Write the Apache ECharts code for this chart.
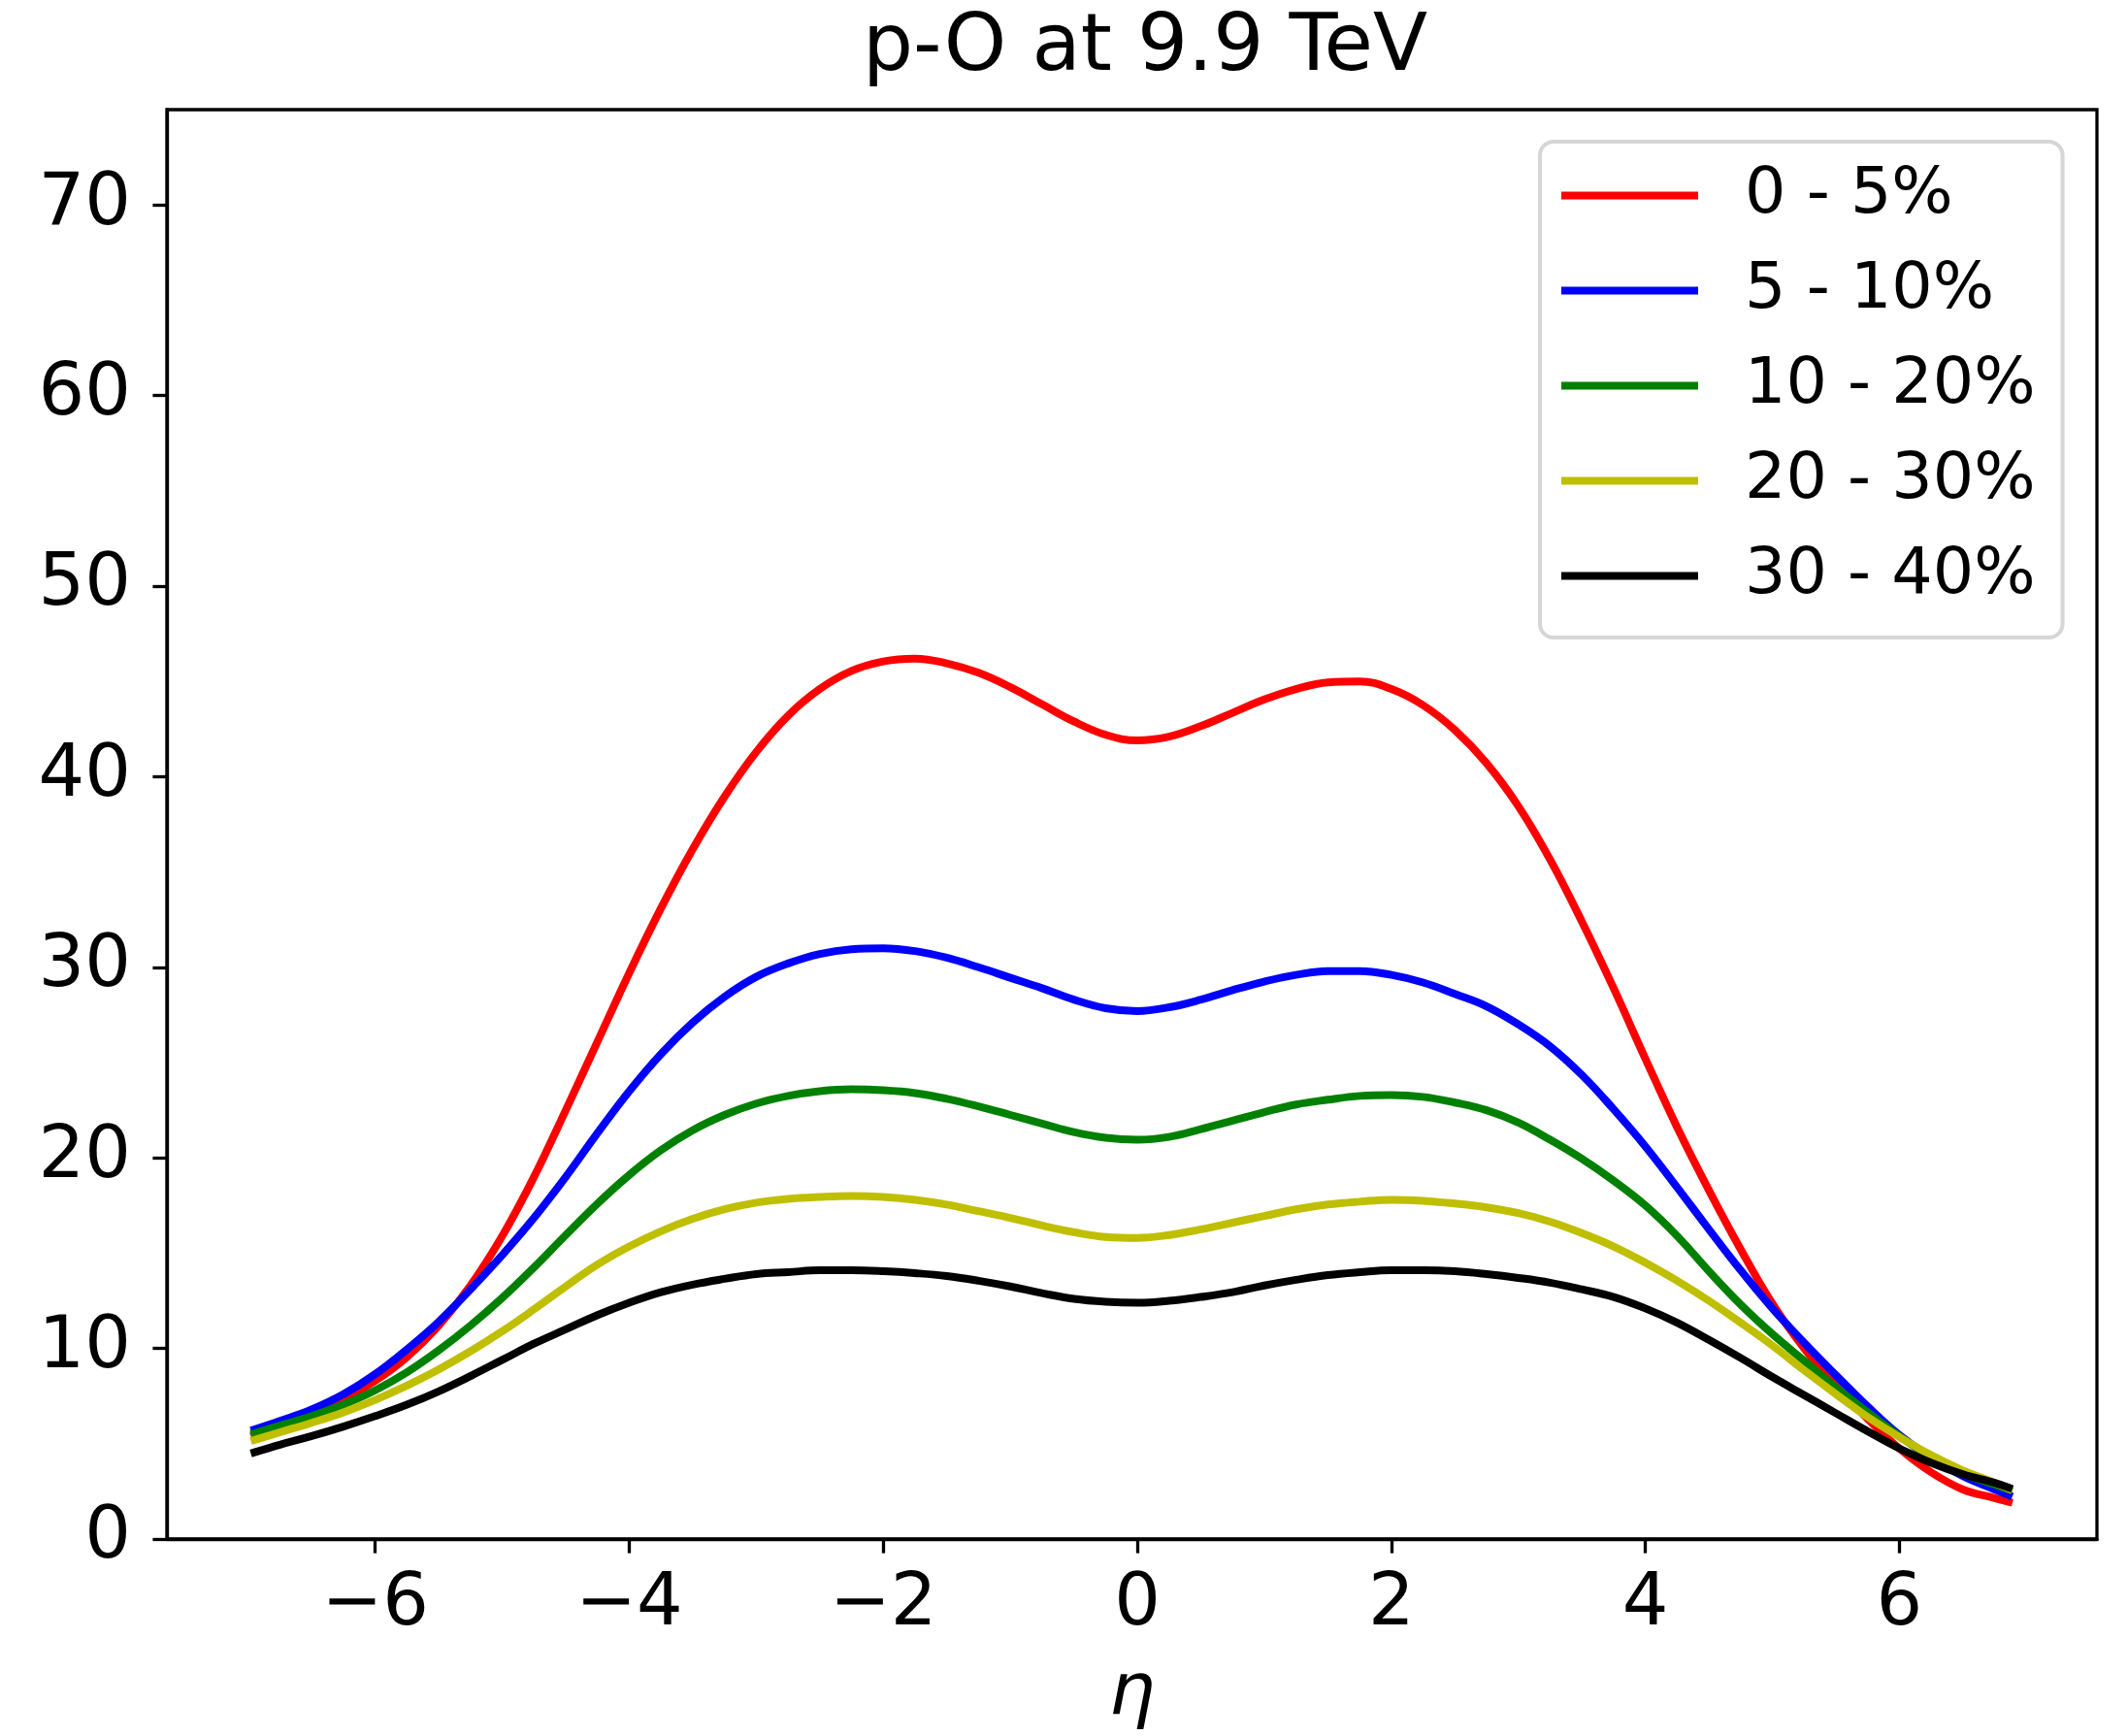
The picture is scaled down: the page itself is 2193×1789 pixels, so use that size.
<!DOCTYPE html>
<html>
<head>
<meta charset="utf-8">
<script src="https://cdn.jsdelivr.net/npm/echarts@6/dist/echarts.min.js"></script>
<style>
html,body{margin:0;padding:0;background:#ffffff;overflow:hidden;}
#chart{width:2193px;height:1789px;}
</style>
</head>
<body>
<div id="chart"></div>
<script>
// ---- data ----
const eta = [-6.95,-6.75,-6.5,-6.25,-6,-5.75,-5.5,-5.25,-5,-4.75,-4.5,-4.25,-4,-3.75,-3.5,-3.25,-3,-2.75,-2.5,-2.25,-2,-1.75,-1.5,-1.25,-1,-0.75,-0.5,-0.25,0,0.25,0.5,0.75,1,1.25,1.5,1.75,2,2.25,2.5,2.75,3,3.25,3.5,3.75,4,4.25,4.5,4.75,5,5.25,5.5,5.75,6,6.25,6.5,6.75,6.86];

const cent0to5 = [5.45,5.95,6.6,7.35,8.3,9.55,11.2,13.3,15.9,19.0,22.5,26.1,29.7,33.1,36.2,38.95,41.3,43.2,44.6,45.55,46.05,46.2,45.95,45.45,44.7,43.8,42.9,42.2,41.9,42.1,42.65,43.35,44.05,44.6,44.95,45.0,44.6,43.75,42.45,40.7,38.45,35.65,32.4,28.9,25.2,21.6,18.3,15.2,12.35,10.0,8.05,6.3,4.75,3.5,2.6,2.15,1.95];

const cent5to10 = [5.75,6.2,6.8,7.6,8.65,9.95,11.4,13.1,14.9,16.85,19.0,21.3,23.5,25.45,27.1,28.45,29.5,30.2,30.7,30.95,31.0,30.85,30.5,30.0,29.45,28.9,28.3,27.85,27.7,27.9,28.3,28.8,29.25,29.6,29.8,29.8,29.6,29.2,28.6,27.95,27.0,25.85,24.35,22.55,20.6,18.45,16.25,14.1,12.1,10.3,8.6,6.95,5.45,4.25,3.3,2.6,2.3];

const cent10to20 = [5.55,5.95,6.45,7.05,7.8,8.75,9.9,11.2,12.65,14.25,15.95,17.6,19.1,20.4,21.45,22.25,22.85,23.25,23.5,23.6,23.55,23.4,23.1,22.7,22.25,21.8,21.35,21.05,20.95,21.1,21.5,21.95,22.4,22.8,23.05,23.25,23.3,23.2,22.9,22.5,21.85,20.95,19.95,18.8,17.5,15.9,14.05,12.3,10.75,9.35,7.95,6.65,5.4,4.3,3.45,2.85,2.6];

const cent20to30 = [5.2,5.6,6.1,6.65,7.3,8.05,8.9,9.85,10.9,12.05,13.25,14.4,15.35,16.15,16.8,17.3,17.65,17.85,17.95,18.0,17.95,17.8,17.55,17.2,16.85,16.45,16.1,15.85,15.8,15.95,16.25,16.6,16.95,17.3,17.55,17.7,17.8,17.75,17.6,17.4,17.1,16.65,16.05,15.35,14.5,13.55,12.5,11.35,10.15,8.85,7.6,6.4,5.35,4.4,3.6,2.95,2.65];

const cent30to40 = [4.55,4.95,5.4,5.9,6.45,7.05,7.75,8.55,9.4,10.25,11.0,11.75,12.4,12.95,13.35,13.65,13.9,14.0,14.1,14.1,14.05,13.95,13.8,13.55,13.25,12.9,12.6,12.45,12.4,12.5,12.7,12.95,13.3,13.6,13.85,14.0,14.1,14.1,14.05,13.9,13.7,13.45,13.1,12.7,12.1,11.35,10.45,9.5,8.5,7.55,6.6,5.65,4.75,4.0,3.4,2.95,2.7];

const seriesNames = ['0 - 5%', '5 - 10%', '10 - 20%', '20 - 30%', '30 - 40%'];
const seriesColors = ['#ff0000', '#0000ff', '#008000', '#bfbf00', '#000000'];
const xTicks = [-6, -4, -2, 0, 2, 4, 6];
const yTicks = [0, 10, 20, 30, 40, 50, 60, 70];
const titleText = 'p-O at 9.9 TeV';
const xAxisName = 'η';

// ---- chart ----
const FONT = '"DejaVu Sans", "Liberation Sans", sans-serif';
const chart = echarts.init(document.getElementById('chart'), null, {renderer: 'canvas', width: 2193, height: 1789});
const allValues = [cent0to5, cent5to10, cent10to20, cent20to30, cent30to40];

const option = {
  animation: false,
  backgroundColor: '#ffffff',
  graphic: [{
    type: 'text',
    x: 1180, y: 51,
    style: {
      text: titleText,
      fontFamily: FONT, fontSize: 82,
      fill: '#000000',
      align: 'center', verticalAlign: 'middle'
    }
  }],
  grid: {
    left: 172, top: 113, width: 1989, height: 1482,
    show: true, borderColor: '#000000', borderWidth: 3.3,
    backgroundColor: 'transparent'
  },
  xAxis: {
    type: 'value', min: -7.64, max: 7.555,
    axisLine: {show: true, onZero: false, lineStyle: {color: '#000000', width: 3.3}},
    axisTick: {show: true, customValues: xTicks, length: 14.6, lineStyle: {color: '#000000', width: 3.3}},
    axisLabel: {
      customValues: xTicks, margin: 31,
      fontFamily: FONT, fontSize: 75, color: '#000000',
      formatter: function (v) { return v < 0 ? '\u2212' + Math.abs(v) : String(v); }
    },
    splitLine: {show: false},
    name: xAxisName, nameLocation: 'middle', nameGap: 123,
    nameTextStyle: {fontFamily: FONT, fontStyle: 'italic', fontSize: 75, color: '#000000'}
  },
  yAxis: {
    type: 'value', min: 0, max: 75,
    axisLine: {show: true, onZero: false, lineStyle: {color: '#000000', width: 3.3}},
    axisTick: {show: true, customValues: yTicks, length: 14.6, lineStyle: {color: '#000000', width: 3.3}},
    axisLabel: {customValues: yTicks, margin: 37, fontFamily: FONT, fontSize: 75, color: '#000000'},
    splitLine: {show: false}
  },
  legend: {
    orient: 'vertical', left: 1587, top: 146,
    padding: [22, 28, 30, 22],
    itemWidth: 141, itemHeight: 8, itemGap: 31,
    icon: 'rect',
    selectedMode: false,
    backgroundColor: '#ffffff', borderColor: '#d6d6d6', borderWidth: 4, borderRadius: 14,
    textStyle: {fontFamily: FONT, fontSize: 66.7, color: '#000000', lineHeight: 67, padding: [0, 0, 0, 43]},
    data: seriesNames
  },
  series: allValues.map(function (vals, i) {
    return {
      name: seriesNames[i],
      type: 'line',
      data: eta.map(function (x, j) { return [x, vals[j]]; }),
      showSymbol: false, symbol: 'none',
      smooth: 0.4,
      lineStyle: {color: seriesColors[i], width: 8, cap: 'square', join: 'round'},
      itemStyle: {color: seriesColors[i]},
      emphasis: {disabled: true}
    };
  })
};
chart.setOption(option);
</script>
</body>
</html>
